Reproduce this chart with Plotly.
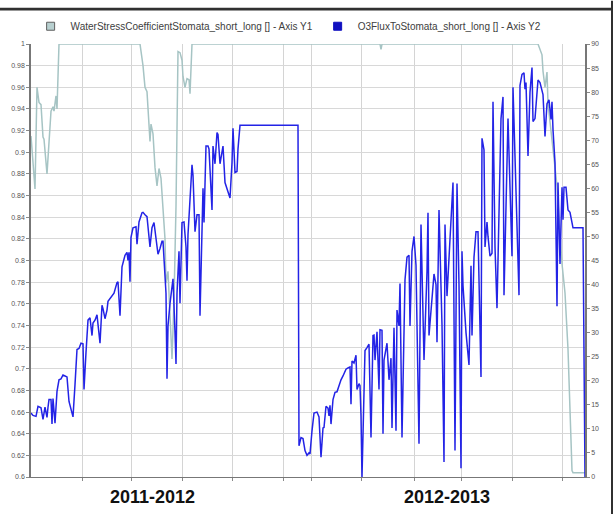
import plotly.graph_objects as go

# ---- data (x = day index of the record) ----
ws_day = [0, 4, 6, 8, 10, 12, 13, 16, 20, 22, 23, 25, 26, 28, 109, 112, 114, 116, 119, 120,
          122, 124, 126, 128, 130, 132, 134, 135, 137, 141, 143, 145, 147, 149, 151, 152, 154,
          156, 158, 159, 161, 349, 350, 351, 507, 511, 512, 514, 516, 517, 522, 526, 529, 531,
          534, 537, 541, 542, 552, 554]
ws_val = [0.915, 0.866, 0.96, 0.946, 0.944, 0.914, 0.912, 0.88, 0.938, 0.942, 0.938, 0.952,
          0.94, 1.0, 1.0, 0.98, 0.96, 0.956, 0.91, 0.926, 0.917, 0.886, 0.869, 0.885, 0.876,
          0.848, 0.82, 0.779, 0.79, 0.709, 0.763, 0.85, 0.993, 0.992, 0.985, 0.97, 0.96, 0.968,
          0.967, 0.954, 1.0, 1.0, 0.995, 1.0, 1.0, 0.99, 0.975, 0.96, 0.974, 0.945, 0.9, 0.869,
          0.824, 0.797, 0.77, 0.718, 0.606, 0.604, 0.604, 0.604]

o3_day = [0, 2, 5, 7, 10, 12, 14, 16, 17, 18, 20, 21, 22, 24, 26, 28, 30, 32, 34, 36, 38, 41,
          42, 44, 46, 48, 50, 52, 53, 55, 57, 59, 61, 62, 64, 66, 68, 69, 71, 72, 74, 76, 77,
          81, 83, 86, 87, 89, 91, 94, 96, 97, 98, 99, 100, 102, 105, 106, 108, 111, 112, 114,
          116, 119, 121, 123, 126, 127, 129, 131, 132, 135, 136, 137, 139, 142, 144, 145, 146,
          148, 149, 151, 153, 155, 156, 157, 161, 162, 164, 166, 168, 169, 172, 173, 175, 177,
          178, 181, 182, 184, 186, 187, 189, 192, 194, 197, 199, 201, 202, 204, 206, 207, 209,
          267, 268, 270, 272, 274, 276, 278, 279, 281, 283, 286, 288, 290, 292, 293, 295, 297,
          298, 299, 300, 302, 304, 306, 307, 310, 312, 315, 317, 319, 320, 321, 323, 325, 326,
          328, 329, 330, 331, 334, 336, 338, 340, 342, 343, 344, 346, 348, 349, 351, 352, 353,
          356, 358, 360, 361, 363, 365, 366, 368, 369, 371, 374, 376, 378, 379, 381, 383, 385,
          388, 390, 393, 396, 397, 398, 403, 405, 406, 408, 411, 413, 414, 416, 420, 422, 424,
          426, 428, 430, 431, 432, 435, 438, 440, 441, 443, 445, 447, 449, 450, 451, 453, 454,
          456, 457, 459, 461, 462, 464, 466, 470, 472, 473, 475, 477, 481, 482, 488, 489, 491,
          493, 494, 495, 497, 499, 501, 502, 504, 506, 507, 509, 511, 512, 514, 516, 518, 520,
          521, 522, 524, 526, 527, 529, 531, 532, 533, 535, 537, 539, 542, 552, 554]
o3_val = [13.3, 12.8, 12.6, 14.7, 14.4, 12.0, 14.5, 12.4, 14.5, 16.1, 16.1, 11.0, 16.3, 11.2,
          17.8, 20.2, 20.4, 21.2, 21.0, 20.8, 15.7, 13.0, 12.5, 19.2, 26.5, 26.7, 27.8, 27.7,
          18.2, 25.9, 32.6, 33.1, 29.4, 32.0, 32.6, 33.7, 30.0, 27.8, 35.7, 35.0, 32.9, 34.7,
          36.5, 37.6, 38.2, 40.4, 40.6, 33.5, 43.7, 46.1, 46.7, 45.0, 46.7, 40.6, 49.8, 51.8,
          52.0, 48.4, 53.0, 54.9, 55.0, 54.5, 54.1, 47.8, 51.8, 52.9, 47.8, 46.3, 47.5, 49.0,
          49.0, 38.2, 20.4, 31.4, 36.1, 41.2, 30.0, 23.5, 38.2, 46.9, 36.1, 52.9, 53.0, 47.8,
          40.8, 50.4, 64.9, 62.7, 51.0, 54.5, 54.5, 33.5, 60.0, 52.9, 68.8, 68.8, 68.2, 55.5,
          68.8, 65.1, 71.6, 71.2, 65.1, 68.8, 61.2, 59.2, 58.0, 65.3, 72.5, 63.3, 63.5, 68.2,
          73.1, 73.1, 6.5, 8.2, 8.0, 5.5, 4.5, 5.0, 4.8, 9.6, 13.3, 13.5, 12.5, 4.1, 10.2, 10.3,
          14.7, 14.3, 12.7, 14.9, 11.0, 16.1, 17.6, 17.7, 18.4, 20.2, 21.0, 22.4, 22.7, 22.9,
          15.1, 24.1, 23.7, 25.3, 18.2, 19.4, 19.0, 12.7, 0.0, 26.3, 26.9, 27.6, 8.2, 29.4, 29.5,
          24.3, 30.2, 18.2, 30.6, 30.5, 9.0, 24.3, 27.8, 20.2, 24.7, 10.2, 31.0, 9.6, 34.7, 31.4,
          40.2, 8.2, 41.0, 45.7, 46.1, 31.4, 46.9, 50.0, 44.0, 6.9, 52.5, 24.3, 42.7, 54.9, 29.4,
          42.2, 40.0, 28.0, 55.5, 31.6, 3.1, 52.5, 37.6, 53.9, 61.2, 5.5, 61.0, 40.0, 1.8, 46.9,
          39.8, 30.0, 23.3, 43.9, 29.4, 45.7, 51.0, 51.0, 30.0, 20.8, 70.4, 68.0, 47.8, 53.0,
          50.0, 45.9, 46.5, 78.0, 47.8, 35.1, 74.5, 79.0, 37.8, 60.2, 74.5, 45.9, 81.0, 37.8,
          81.4, 83.7, 84.0, 80.6, 82.0, 66.7, 80.0, 85.1, 73.9, 74.5, 80.4, 82.5, 82.0, 80.0,
          79.5, 70.8, 77.6, 78.4, 74.3, 78.0, 72.2, 65.3, 35.5, 61.2, 44.3, 60.2, 53.5, 60.2,
          60.2, 55.5, 55.0, 51.8, 51.8, 0.0]

grid_days = [51, 100, 151, 201, 252, 280, 330, 383, 430, 481, 531]
y1_ticks = [round(0.6 + 0.02 * i, 2) for i in range(21)]
y1_text = ["0.6", "0.62", "0.64", "0.66", "0.68", "0.7", "0.72", "0.74", "0.76", "0.78", "0.8",
           "0.82", "0.84", "0.86", "0.88", "0.9", "0.92", "0.94", "0.96", "0.98", "1"]
season_labels = ["2011-2012", "2012-2013"]
season_pos = [0.22, 0.751]

name1 = "WaterStressCoefficientStomata_short_long [] - Axis Y1"
name2 = "O3FluxToStomata_short_long [] - Axis Y2"
gray = "#a6c4c4"
blue = "#2323e6"

fig = go.Figure()
fig.add_trace(go.Scatter(x=ws_day, y=ws_val, mode="lines", line=dict(color=gray, width=1.5),
                         showlegend=False, yaxis="y"))
fig.add_trace(go.Scatter(x=o3_day, y=o3_val, mode="lines", line=dict(color=blue, width=1.5),
                         showlegend=False, yaxis="y2"))
# legend entries
fig.add_trace(go.Scatter(x=[None], y=[None], mode="markers", name=name1,
                         marker=dict(symbol="square", size=8, color="#b8d0d0",
                                     line=dict(color="#606060", width=1))))
fig.add_trace(go.Scatter(x=[None], y=[None], mode="markers", name=name2,
                         marker=dict(symbol="square", size=8, color="#1010c0",
                                     line=dict(color="#1010c0", width=1))))

for lab, px in zip(season_labels, season_pos):
    fig.add_annotation(text="<b>" + lab + "</b>", x=px, y=-0.047, xref="paper", yref="paper",
                       showarrow=False, yanchor="middle", xanchor="center",
                       font=dict(family="Liberation Sans", size=18, color="#111111"))

fig.update_layout(
    width=613, height=514, autosize=False,
    margin=dict(l=31, r=28, t=36, b=37),
    paper_bgcolor="white", plot_bgcolor="white",
    font=dict(family="Liberation Sans", color="#555555", size=7),
    showlegend=True,
    legend=dict(orientation="h", x=0.465, xanchor="center", y=1.041, yanchor="middle",
                font=dict(size=10, color="#404040"), itemwidth=30, bgcolor="rgba(0,0,0,0)",
                tracegroupgap=0),
    xaxis=dict(range=[0, 554], tickvals=grid_days, ticktext=[""] * len(grid_days),
               showgrid=True, gridcolor="#d4d4d4", gridwidth=1, ticks="outside", ticklen=3,
               tickcolor="#888888", showline=True, linecolor="#777777", linewidth=1,
               zeroline=False, fixedrange=True),
    yaxis=dict(range=[0.6, 1.0], tickvals=y1_ticks, ticktext=y1_text, showgrid=True,
               gridcolor="#d8d8d8", gridwidth=1, ticks="outside", ticklen=3,
               tickcolor="#888888", showline=True, linecolor="#777777", linewidth=1.5,
               zeroline=False, tickfont=dict(size=7, color="#555555")),
    yaxis2=dict(range=[0, 90], dtick=5, overlaying="y", side="right", showgrid=False,
                ticks="outside", ticklen=3, tickcolor="#888888", showline=True,
                linecolor="#777777", linewidth=1.5, zeroline=False,
                tickfont=dict(size=7, color="#555555")),
    shapes=[
        dict(type="rect", xref="paper", yref="paper", x0=-0.06, x1=1.06,
             y0=(477 - 2) / 441, y1=(477 + 1) / 441, fillcolor="#303030", line_width=0,
             layer="above"),
        dict(type="rect", xref="paper", yref="paper", x0=(611 - 31) / 554, x1=(614 - 31) / 554,
             y0=-0.1, y1=1.1, fillcolor="#303030", line_width=0, layer="above"),
    ],
)

fig.write_html("out.html")
